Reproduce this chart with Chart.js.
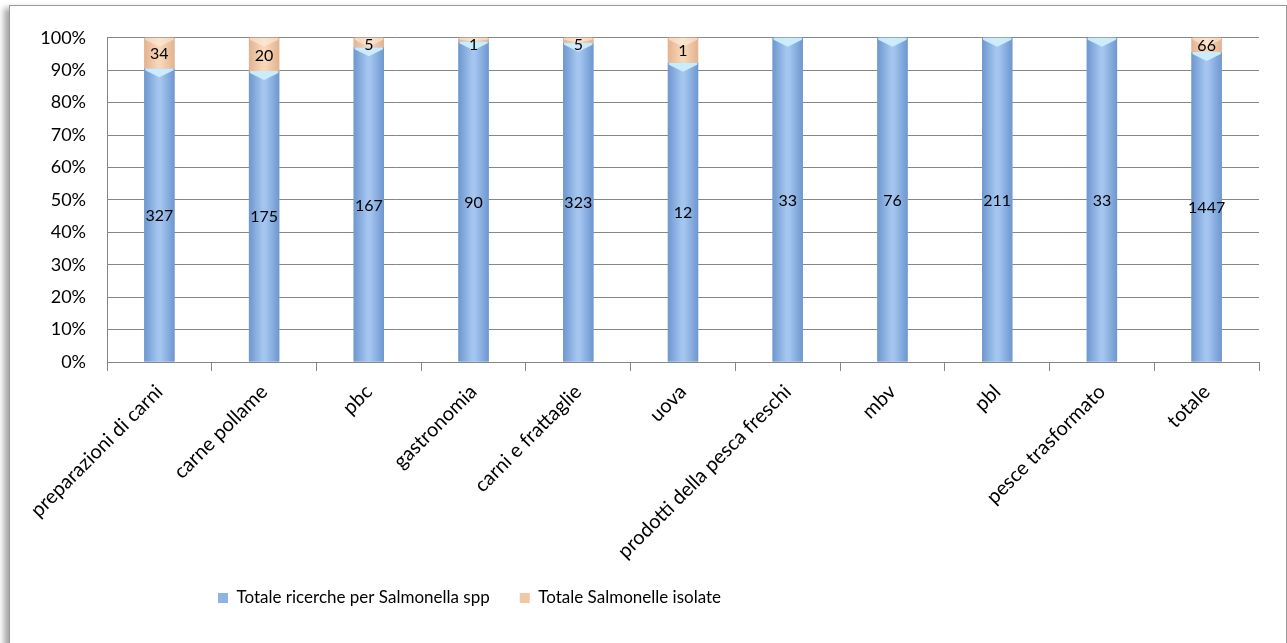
<!DOCTYPE html>
<html>
<head>
<meta charset="utf-8">
<script src="https://cdn.jsdelivr.net/npm/chart.js@4.4.1/dist/chart.umd.min.js"></script>
<style>
  html, body { margin: 0; background: #fff; overflow: hidden; }
  .frame {
    position: absolute; left: 9px; top: 5px; width: 1276px; height: 650px;
    border: 1px solid #9a9a9a; background: #fff;
    box-shadow: -5px 3px 6px rgba(0, 0, 0, 0.35);
  }
  canvas { display: block; }
</style>
</head>
<body>
<div class="frame"><canvas id="chart" width="1276" height="650"></canvas></div>
<script>
const categories = [
  'preparazioni di carni', 'carne pollame', 'pbc', 'gastronomia', 'carni e frattaglie',
  'uova', 'prodotti della pesca freschi', 'mbv', 'pbl', 'pesce trasformato', 'totale'
];
const ricerche = [327, 175, 167, 90, 323, 12, 33, 76, 211, 33, 1447];
const isolate = [34, 20, 5, 1, 5, 1, 0, 0, 0, 0, 66];
const seriesNames = ['Totale ricerche per Salmonella spp', 'Totale Salmonelle isolate'];
const rawSeries = [ricerche, isolate];

const FONT = 'Lato, "Open Sans", sans-serif';

// 100% stacking: each column is split by its share of the category total
const share = (series) => series.map((v, i) => v / (ricerche[i] + isolate[i]) * 100);

const shades = [
  { edge: '#6e97cf', mid: '#a3c5ef', cap: 'rgba(205, 238, 253, 0.95)' },
  { edge: '#e2b38f', mid: '#f8d6b8', cap: 'rgba(255, 236, 220, 0.6)' }
];

// shaded bar faces with a light bevel on top, then the value labels
const barLook = {
  id: 'barLook',
  afterDatasetsDraw(chart) {
    const ctx = chart.ctx;
    const area = chart.chartArea;
    ctx.save();
    chart.data.datasets.forEach((ds, di) => {
      chart.getDatasetMeta(di).data.forEach((bar) => {
        const { x, y, base, width } = bar.getProps(['x', 'y', 'base', 'width'], true);
        const h = base - y;
        if (h <= 0.2) return;
        const left = x - width / 2;
        const g = ctx.createLinearGradient(left, 0, left + width, 0);
        g.addColorStop(0, shades[di].edge);
        g.addColorStop(0.45, shades[di].mid);
        g.addColorStop(0.55, shades[di].mid);
        g.addColorStop(1, shades[di].edge);
        ctx.fillStyle = g;
        ctx.fillRect(left, y, width, h);
        const ch = Math.min(h, 9);
        ctx.fillStyle = shades[di].cap;
        ctx.beginPath();
        ctx.moveTo(left + 1, y);
        ctx.lineTo(left + width - 1, y);
        ctx.lineTo(left + width - 1, y + Math.min(h, 2));
        ctx.lineTo(x, y + ch);
        ctx.lineTo(left + 1, y + Math.min(h, 2));
        ctx.closePath();
        ctx.fill();
      });
    });
    ctx.font = '16px ' + FONT;
    ctx.fillStyle = '#000';
    ctx.textAlign = 'center';
    ctx.textBaseline = 'middle';
    chart.data.datasets.forEach((ds, di) => {
      chart.getDatasetMeta(di).data.forEach((bar, i) => {
        const v = rawSeries[di][i];
        if (!v) return;
        const { x, y, base } = bar.getProps(['x', 'y', 'base'], true);
        const yc = Math.max((y + base) / 2, area.top + 6);
        ctx.fillText(String(v), x, yc + 1);
      });
    });
    ctx.restore();
  }
};

// legend sits left of centre and a little higher than its layout slot
const legendShift = {
  id: 'legendShift',
  afterLayout(chart) {
    const lg = chart.legend;
    lg.left += 178;
    lg.right += 178;
    lg.top -= 12.5;
    lg.bottom -= 12.5;
  }
};

new Chart(document.getElementById('chart'), {
  type: 'bar',
  data: {
    labels: categories,
    datasets: [
      { label: seriesNames[0], data: share(ricerche), backgroundColor: '#8db3e2', borderWidth: 0 },
      { label: seriesNames[1], data: share(isolate), backgroundColor: '#f2c8a4', borderWidth: 0 }
    ]
  },
  options: {
    responsive: false,
    animation: false,
    layout: { padding: { left: 0, right: 27, top: 31, bottom: 27 } },
    datasets: { bar: { barPercentage: 0.29, categoryPercentage: 1 } },
    scales: {
      x: {
        stacked: true,
        grid: { offset: true, drawOnChartArea: false, drawTicks: true, tickLength: 9, color: '#868686' },
        border: { color: '#868686' },
        ticks: {
          autoSkip: false, minRotation: 45, maxRotation: 45, padding: 9,
          color: '#000', font: { family: FONT, size: 20 }
        },
        afterFit(scale) { scale.height = 210; }
      },
      y: {
        stacked: true,
        min: 0, max: 100,
        grid: { color: '#868686', drawTicks: false },
        border: { color: '#868686' },
        ticks: {
          stepSize: 10, padding: 21, color: '#000',
          font: { family: FONT, size: 18 },
          callback: (v) => v + '%'
        },
        afterFit(scale) { scale.width = 97; }
      }
    },
    plugins: {
      legend: {
        position: 'bottom',
        align: 'start',
        labels: {
          boxWidth: 10, boxHeight: 10, padding: 30, color: '#000',
          font: { family: FONT, size: 17 }
        }
      },
      tooltip: { enabled: false }
    }
  },
  plugins: [barLook, legendShift]
});
</script>
</body>
</html>
